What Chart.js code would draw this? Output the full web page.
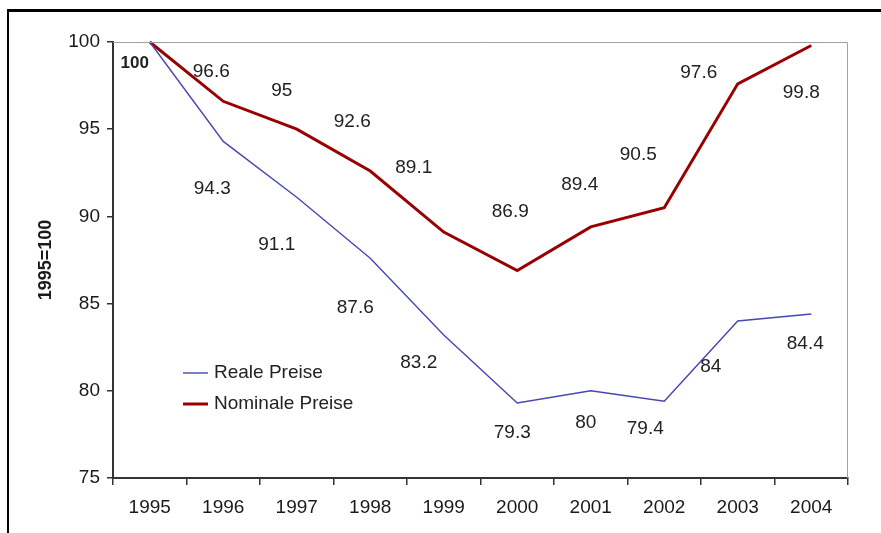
<!DOCTYPE html>
<html>
<head>
<meta charset="utf-8">
<script src="https://cdn.jsdelivr.net/npm/chart.js@4/dist/chart.umd.min.js"></script>
<style>
  body { margin: 0; background: #fff; }
  #wrap { position: relative; width: 881px; height: 533px; overflow: hidden; }
  #frame { position: absolute; left: 7px; top: 9px; width: 1000px; height: 1000px;
           border-left: 2px solid #000; border-top: 3px solid #000; }
  canvas { position: absolute; left: 0; top: 0; }
</style>
</head>
<body>
<div id="wrap">
  <div id="frame"></div>
  <canvas id="chart" width="881" height="533"></canvas>
</div>
<script>
// Data
var years = ['1995', '1996', '1997', '1998', '1999', '2000', '2001', '2002', '2003', '2004'];
var realPrices = [100, 94.3, 91.1, 87.6, 83.2, 79.3, 80, 79.4, 84, 84.4];
var nominalPrices = [100, 96.6, 95, 92.6, 89.1, 86.9, 89.4, 90.5, 97.6, 99.8];
var yTicks = [75, 80, 85, 90, 95, 100];

// where the data labels sit relative to their point (like the Excel original)
var realLabelOffsets = [null, [-11, 47], [-20, 48], [-15, 50], [-25, 28], [-5, 30], [-5, 32], [-19, 28], [-27, 46], [-6, 30]];
var nominalLabelOffsets = [[-15, 21], [-12, -30], [-15, -38], [-18, -49], [-30, -64], [-7, -59], [-11, -42], [-26, -53], [-39, -11], [-10, 47]];

var FONT = '"Liberation Sans", Arial, sans-serif';

// draws data labels, plot border and the legend inside the plot
var excelBits = {
  id: 'excelBits',
  afterDatasetsDraw: function(chart) {
    var ctx = chart.ctx;
    var area = chart.chartArea;
    ctx.save();

    // grey plot border (top + right)
    ctx.strokeStyle = '#a0a0a0';
    ctx.lineWidth = 1;
    ctx.beginPath();
    ctx.moveTo(area.left, area.top + 0.5);
    ctx.lineTo(area.right - 0.5, area.top + 0.5);
    ctx.lineTo(area.right - 0.5, area.bottom);
    ctx.stroke();

    // data labels
    ctx.fillStyle = '#222';
    ctx.textAlign = 'center';
    ctx.textBaseline = 'middle';
    chart.data.datasets.forEach(function(ds, i) {
      var meta = chart.getDatasetMeta(i);
      meta.data.forEach(function(pt, j) {
        var off = ds.labelOffsets[j];
        if (!off) return;
        ctx.font = (i === 1 && j === 0) ? 'bold 17px ' + FONT : '19px ' + FONT;
        ctx.fillText(String(ds.data[j]), pt.x + off[0], pt.y + off[1]);
      });
    });

    // legend
    var lx = 183, ly = 373;
    ctx.textAlign = 'left';
    ctx.font = '19px ' + FONT;
    chart.data.datasets.forEach(function(ds, i) {
      var y = ly + i * 31;
      ctx.strokeStyle = ds.borderColor;
      ctx.lineWidth = ds.borderWidth;
      ctx.beginPath();
      ctx.moveTo(lx, y);
      ctx.lineTo(lx + 25, y);
      ctx.stroke();
      ctx.fillStyle = '#222';
      ctx.fillText(ds.label, lx + 31, y);
    });
    ctx.restore();
  }
};

new Chart(document.getElementById('chart'), {
  type: 'line',
  data: {
    labels: years,
    datasets: [
      {
        label: 'Reale Preise',
        data: realPrices,
        borderColor: '#4646b4',
        borderWidth: 1.4,
        pointRadius: 0,
        tension: 0,
        clip: false,
        labelOffsets: realLabelOffsets
      },
      {
        label: 'Nominale Preise',
        data: nominalPrices,
        borderColor: '#990000',
        borderWidth: 3,
        pointRadius: 0,
        tension: 0,
        clip: false,
        labelOffsets: nominalLabelOffsets
      }
    ]
  },
  options: {
    responsive: false,
    animation: false,
    layout: { padding: { left: 0, top: 42, right: 33, bottom: 0 } },
    plugins: {
      legend: { display: false },
      tooltip: { enabled: false }
    },
    scales: {
      x: {
        offset: true,
        grid: { offset: true, drawOnChartArea: false, tickLength: 7, color: '#333', lineWidth: 1.5 },
        border: { color: '#333', width: 2 },
        ticks: { color: '#1a1a1a', font: { family: FONT, size: 19 }, padding: 11, maxRotation: 0 },
        afterFit: function(scale) { scale.height = 55; }
      },
      y: {
        min: 75,
        max: 100,
        afterBuildTicks: function(scale) {
          scale.ticks = yTicks.map(function(v) { return { value: v }; });
        },
        grid: { drawOnChartArea: false, tickLength: 6, color: '#333', lineWidth: 1.5 },
        border: { color: '#333', width: 2 },
        ticks: { color: '#1a1a1a', font: { family: FONT, size: 19 }, padding: 7 },
        title: {
          display: true,
          text: '1995=100',
          color: '#1a1a1a',
          font: { family: FONT, size: 18, weight: 'bold' },
          padding: { top: 35, bottom: 0 }
        },
        afterFit: function(scale) { scale.width = 113; }
      }
    }
  },
  plugins: [excelBits]
});
</script>
</body>
</html>
